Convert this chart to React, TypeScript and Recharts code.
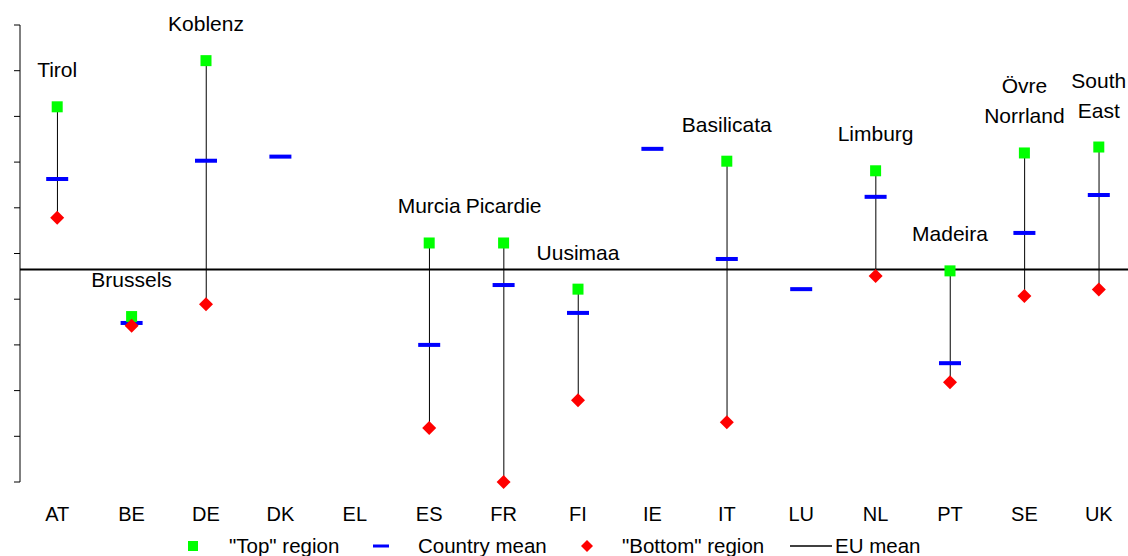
import { ComposedChart, XAxis, YAxis, Bar, Line, LabelList, Legend, ReferenceLine } from 'recharts'

const countries = ['AT', 'BE', 'DE', 'DK', 'EL', 'ES', 'FR', 'FI', 'IE', 'IT', 'LU', 'NL', 'PT', 'SE', 'UK']
const topRegion = [82.1, 36.2, 92.2, null, null, 52.3, 52.3, 42.2, null, 70.2, null, 68.1, 46.2, 72.0, 73.3]
const countryMean = [66.3, 34.8, 70.3, 71.2, null, 30.0, 43.1, 37.0, 72.9, 48.8, 42.2, 62.4, 26.0, 54.5, 62.8]
const bottomRegion = [57.8, 34.2, 38.9, null, null, 11.8, 0.0, 17.9, null, 13.1, null, 45.1, 21.8, 40.7, 42.1]
const topNames = ['Tirol', 'Brussels', 'Koblenz', '', '', 'Murcia', 'Picardie', 'Uusimaa', '', 'Basilicata', '', 'Limburg', 'Madeira', 'Övre\nNorrland', 'South\nEast']
const euMean = 46.5
const yTicks = [0, 10, 20, 30, 40, 50, 60, 70, 80, 90, 100]

const FONT = '"Liberation Sans", Arial, sans-serif'

const data = countries.map((c, i) => ({
  country: c,
  top: topRegion[i],
  mean: countryMean[i],
  bottom: bottomRegion[i],
  range: topRegion[i] != null && bottomRegion[i] != null ? [bottomRegion[i], topRegion[i]] : null,
  label: topNames[i],
}))

const ok = (v: any) => v != null && !isNaN(v)

const HiLo = (p: any) => {
  if (!ok(p.y) || !ok(p.height) || p.payload?.range == null) return <g />
  const cx = p.x + p.width / 2
  return <line x1={cx} x2={cx} y1={p.y} y2={p.y + p.height} stroke="#000" strokeWidth={1} />
}

const Square = (p: any) => {
  if (!ok(p.cy) || p.value == null) return <g key={'s' + p.index} />
  return <rect key={'s' + p.index} x={p.cx - 5.5} y={p.cy - 5.5} width={11} height={11} fill="#00ff00" />
}

const Dash = (p: any) => {
  if (!ok(p.cy) || p.value == null) return <g key={'d' + p.index} />
  return <rect key={'d' + p.index} x={p.cx - 11} y={p.cy - 2} width={22} height={4} fill="#0000ff" />
}

const Diamond = (p: any) => {
  if (!ok(p.cy) || p.value == null) return <g key={'r' + p.index} />
  const { cx, cy } = p
  return <path key={'r' + p.index} d={`M${cx},${cy - 7}L${cx + 7},${cy}L${cx},${cy + 7}L${cx - 7},${cy}Z`} fill="#ff0000" />
}

const RegionLabel = (p: any) => {
  const value = p.value
  const x = p.x ?? p.viewBox?.x
  const y = p.y ?? p.viewBox?.y
  if (!value || !ok(x) || !ok(y)) return null
  const lines = String(value).split('\n')
  return (
    <text textAnchor="middle" fontSize={21} fill="#000" fontFamily={FONT}>
      {lines.map((l, i) => (
        <tspan key={i} x={x} y={y - 37 - (lines.length - 1 - i) * 30 + 7.5}>{l}</tspan>
      ))}
    </text>
  )
}

// y axis has tick marks but no numbers
const NoTick = () => <g />

const renderLegend = () => (
  <div style={{ height: 24, boxSizing: 'border-box', paddingTop: 4, paddingLeft: 181, display: 'flex', alignItems: 'center', fontFamily: FONT, fontSize: 20.5, color: '#000', whiteSpace: 'nowrap' }}>
    <svg width={24} height={20}><rect x={7} y={5} width={10} height={10} fill="#00ff00" /></svg>
    <span style={{ marginLeft: 24, width: 117 }}>"Top" region</span>
    <svg width={24} height={20} style={{ marginLeft: 23 }}><rect x={4} y={8.5} width={16} height={3} fill="#0000ff" /></svg>
    <span style={{ marginLeft: 25, width: 134 }}>Country mean</span>
    <svg width={24} height={20} style={{ marginLeft: 23 }}><path d="M12,4L18,10L12,16L6,10Z" fill="#ff0000" /></svg>
    <span style={{ marginLeft: 23, width: 158 }}>"Bottom" region</span>
    <svg width={42} height={20} style={{ marginLeft: 10 }}><line x1={0} x2={42} y1={10} y2={10} stroke="#000" strokeWidth={1.5} /></svg>
    <span style={{ marginLeft: 3 }}>EU mean</span>
  </div>
)

export default function App() {
  return (
    <div style={{ position: 'fixed', left: 0, top: 0, width: 1128, height: 556, overflow: 'hidden', background: '#fff' }}>
      <ComposedChart width={1140} height={556} data={data} margin={{ top: 25, right: 4, bottom: 0, left: 0 }}>
        <XAxis dataKey="country" interval={0} height={50} axisLine={false} tickLine={false} tickMargin={19}
          tick={{ fontSize: 20, fill: '#000', fontFamily: FONT }} />
        <YAxis domain={[0, 100]} ticks={yTicks} width={20} tick={NoTick} tickSize={6}
          axisLine={{ stroke: '#000', strokeWidth: 1 }} tickLine={{ stroke: '#000', strokeWidth: 1 }} />
        <ReferenceLine y={euMean} stroke="#000" strokeWidth={2} />
        <Bar dataKey="range" shape={HiLo} isAnimationActive={false} />
        <Line dataKey="mean" stroke="none" dot={Dash} activeDot={false} isAnimationActive={false} />
        <Line dataKey="top" stroke="none" dot={Square} activeDot={false} isAnimationActive={false}>
          <LabelList dataKey="label" content={RegionLabel} />
        </Line>
        <Line dataKey="bottom" stroke="none" dot={Diamond} activeDot={false} isAnimationActive={false} />
        <Legend verticalAlign="bottom" align="left" height={24} wrapperStyle={{ left: 0, bottom: 0, width: 1140 }} content={renderLegend} />
      </ComposedChart>
    </div>
  )
}
